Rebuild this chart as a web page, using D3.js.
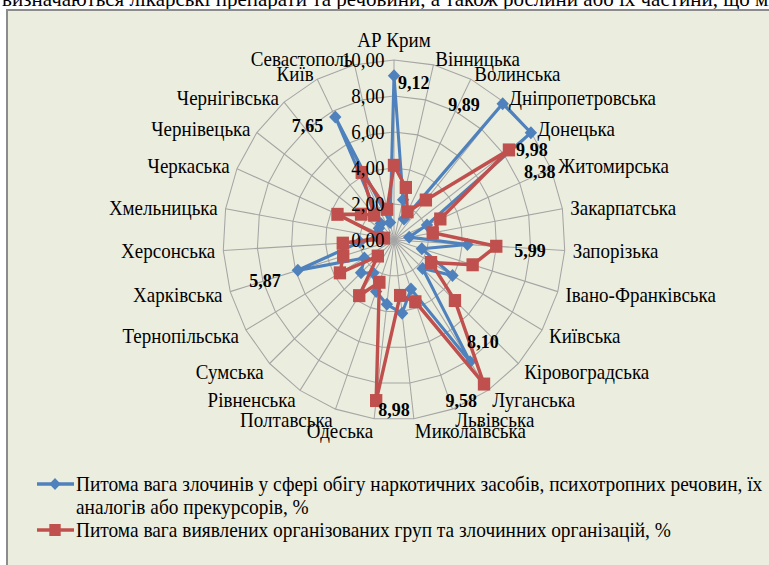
<!DOCTYPE html>
<html>
<head>
<meta charset="utf-8">
<script src="https://cdn.jsdelivr.net/npm/d3@7"></script>
<style>
  body { margin: 0; background: #fff; }
</style>
</head>
<body>
<script>
// regions, clockwise from the top
var regions = ["АР Крим", "Вінницька", "Волинська", "Дніпропетровська", "Донецька", "Житомирська",
  "Закарпатська", "Запорізька", "Івано-Франківська", "Київська", "Кіровоградська", "Луганська",
  "Львівська", "Миколаївська", "Одеська", "Полтавська", "Рівненська", "Сумська", "Тернопільська",
  "Харківська", "Херсонська", "Хмельницька", "Черкаська", "Чернівецька", "Чернігівська", "Київ", "Севастополь"];

var drugCrimeShare = [9.12, 2.3, 1.3, 9.89, 9.98, 2.1, 0.9, 4.3, 1.7, 3.95, 2.3, 8.10, 2.9, 4.1,
  3.6, 3.05, 2.2, 2.65, 2.0, 5.87, 2.0, 1.0, 1.0, 1.1, 1.2, 7.65, 1.0];

var orgGroupShare = [4.15, 3.0, 1.75, 2.9, 8.38, 2.95, 2.3, 5.99, 4.8, 2.5, 4.9, 9.58, 3.65, 3.1,
  8.98, 2.5, 3.7, 1.3, 3.65, 3.1, 3.0, 0.6, 3.6, 2.4, 1.8, 4.2, 1.75];

var axisTicks = [0, 2, 4, 6, 8, 10];

var legendLines = [
  ["Питома вага злочинів у  сфері обігу наркотичних засобів, психотропних речовин, їх",
   "аналогів або прекурсорів, %"],
  ["Питома вага виявлених організованих груп та злочинних організацій, %"]
];

// which points carry a value label
var labelledDrug = [0, 3, 4, 11, 19, 25];
var labelledOrg = [4, 7, 11, 14];

var width = 769, height = 565;
var sx = 0.95;               // the picture is squeezed a little horizontally
var cx = 394 / sx, cy = 240;
var blue = "#4F81BD", red = "#C0504D";
var serif = "'Liberation Serif', 'Times New Roman', 'DejaVu Serif', serif";

// hand placed label nudges (screen px), like the moved labels in the original
var nudge = {
  "b0": [4, 7, "start"], "b3": [-23, 1, "end"], "b4": [1, 17, "middle"],
  "b11": [-3, -20, "start"], "b19": [-17, 10, "end"], "b25": [-12, 8, "end"],
  "r4": [15, 21, "start"], "r7": [18, 4, "start"], "r11": [-7, 16, "end"], "r14": [2, 9, "start"]
};

var svg = d3.select("body").append("svg")
  .attr("width", width)
  .attr("height", height)
  .attr("font-family", serif)
  .style("font-family", serif);

svg.append("rect").attr("width", width).attr("height", height).attr("fill", "#fff");

// cut off line of the document text above the chart
svg.append("text")
  .attr("x", 2).attr("y", 6)
  .style("font-size", "21px")
  .text("визначаються лікарські препарати та речовини, а також рослини або їх частини, що мі");

svg.append("rect")
  .attr("x", 7).attr("y", 10)
  .attr("width", 800).attr("height", 600)
  .attr("fill", "#EBEEDF")
  .attr("stroke", "#8C8C8C")
  .attr("stroke-width", 2);

var g = svg.append("g").attr("transform", "scale(" + sx + ",1)");

var r = d3.scaleLinear().domain([0, 10]).range([0, 180]);
var angle = d3.scaleLinear().domain([0, regions.length]).range([0, 2 * Math.PI]);

function px(i, v) { return cx + r(v) * Math.sin(angle(i)); }
function py(i, v) { return cy - r(v) * Math.cos(angle(i)); }

var chart = g.append("g").attr("transform", "translate(" + cx + "," + cy + ")");

// grid rings
var ring = d3.lineRadial()
  .angle(function(d, i) { return angle(i); })
  .radius(function(d) { return r(d); })
  .curve(d3.curveLinearClosed);

axisTicks.slice(1).forEach(function(t) {
  chart.append("path")
    .attr("d", ring(regions.map(function() { return t; })))
    .attr("fill", "none")
    .attr("stroke", "#A5A5A5")
    .attr("stroke-width", 1.1);
});

// spokes
chart.selectAll(".spoke")
  .data(regions)
  .enter().append("line")
  .attr("class", "spoke")
  .attr("x1", 0).attr("y1", 0)
  .attr("x2", function(d, i) { return r(10) * Math.sin(angle(i)); })
  .attr("y2", function(d, i) { return -r(10) * Math.cos(angle(i)); })
  .attr("stroke", "#A5A5A5")
  .attr("stroke-width", 1.1);

// value axis labels
g.selectAll(".tick-label")
  .data(axisTicks)
  .enter().append("text")
  .attr("class", "tick-label")
  .attr("x", cx - 10)
  .attr("y", function(d) { return cy - r(d); })
  .attr("dy", "0.35em")
  .attr("text-anchor", "end")
  .style("font-size", "20px")
  .text(function(d) { return d3.format(".2f")(d).replace(".", ","); });

// category labels
g.selectAll(".cat")
  .data(regions)
  .enter().append("text")
  .attr("class", "cat")
  .attr("x", function(d, i) { return cx + (r(10) + 8.4) * Math.sin(angle(i)); })
  .attr("y", function(d, i) {
    var c = Math.cos(angle(i)), s = Math.sin(angle(i));
    var y = cy - (r(10) + 6) * c;
    if (c < 0) y += -6 * c;
    if (Math.abs(s) < 0.05) y -= 14;
    return y;
  })
  .attr("dy", "0.35em")
  .attr("text-anchor", function(d, i) {
    var s = Math.sin(angle(i));
    return Math.abs(s) < 0.05 ? "middle" : (s > 0 ? "start" : "end");
  })
  .style("font-size", "20px")
  .text(function(d) { return d; });

var line = d3.lineRadial()
  .angle(function(d, i) { return angle(i); })
  .radius(function(d) { return r(d); })
  .curve(d3.curveLinearClosed);

// series 1: diamonds
chart.append("path")
  .attr("d", line(drugCrimeShare))
  .attr("fill", "none")
  .attr("stroke", blue)
  .attr("stroke-width", 3.2)
  .attr("stroke-linejoin", "round");

chart.selectAll(".dia")
  .data(drugCrimeShare)
  .enter().append("path")
  .attr("class", "dia")
  .attr("d", "M0,-6.5L6.5,0L0,6.5L-6.5,0Z")
  .attr("transform", function(d, i) {
    return "translate(" + (px(i, d) - cx) + "," + (py(i, d) - cy) + ")";
  })
  .attr("fill", blue);

// series 2: squares
chart.append("path")
  .attr("d", line(orgGroupShare))
  .attr("fill", "none")
  .attr("stroke", red)
  .attr("stroke-width", 3.6)
  .attr("stroke-linejoin", "round");

chart.selectAll(".sq")
  .data(orgGroupShare)
  .enter().append("rect")
  .attr("class", "sq")
  .attr("x", function(d, i) { return px(i, d) - cx - 6.5; })
  .attr("y", function(d, i) { return py(i, d) - cy - 6.5; })
  .attr("width", 13).attr("height", 13)
  .attr("fill", red);

// value labels
var fmt = function(v) { return d3.format(".2f")(v).replace(".", ","); };
var labelData = labelledDrug.map(function(i) { return { key: "b" + i, i: i, v: drugCrimeShare[i] }; })
  .concat(labelledOrg.map(function(i) { return { key: "r" + i, i: i, v: orgGroupShare[i] }; }));

g.selectAll(".val")
  .data(labelData)
  .enter().append("text")
  .attr("class", "val")
  .attr("x", function(d) { return px(d.i, d.v) + nudge[d.key][0] / sx; })
  .attr("y", function(d) { return py(d.i, d.v) + nudge[d.key][1]; })
  .attr("dy", "0.35em")
  .attr("text-anchor", function(d) { return nudge[d.key][2]; })
  .style("font-size", "19px")
  .style("font-weight", "bold")
  .text(function(d) { return fmt(d.v); });

// legend
var legend = g.append("g");
var rowY = [484, 530];
[blue, red].forEach(function(col, k) {
  var lg = legend.append("g").attr("transform", "translate(0," + rowY[k] + ")");
  lg.append("line")
    .attr("x1", 37 / sx).attr("x2", 74 / sx)
    .attr("stroke", col).attr("stroke-width", 3.5);
  if (k === 0) {
    lg.append("path").attr("d", "M0,-6L6,0L0,6L-6,0Z")
      .attr("transform", "translate(" + (55 / sx) + ",0)").attr("fill", col);
  } else {
    lg.append("rect").attr("x", 55 / sx - 6).attr("y", -6)
      .attr("width", 12).attr("height", 12).attr("fill", col);
  }
  legendLines[k].forEach(function(t, j) {
    lg.append("text")
      .attr("x", 76 / sx).attr("y", j * 23)
      .attr("dy", "0.35em")
      .style("font-size", "20.4px")
      .text(t);
  });
});
</script>
</body>
</html>
